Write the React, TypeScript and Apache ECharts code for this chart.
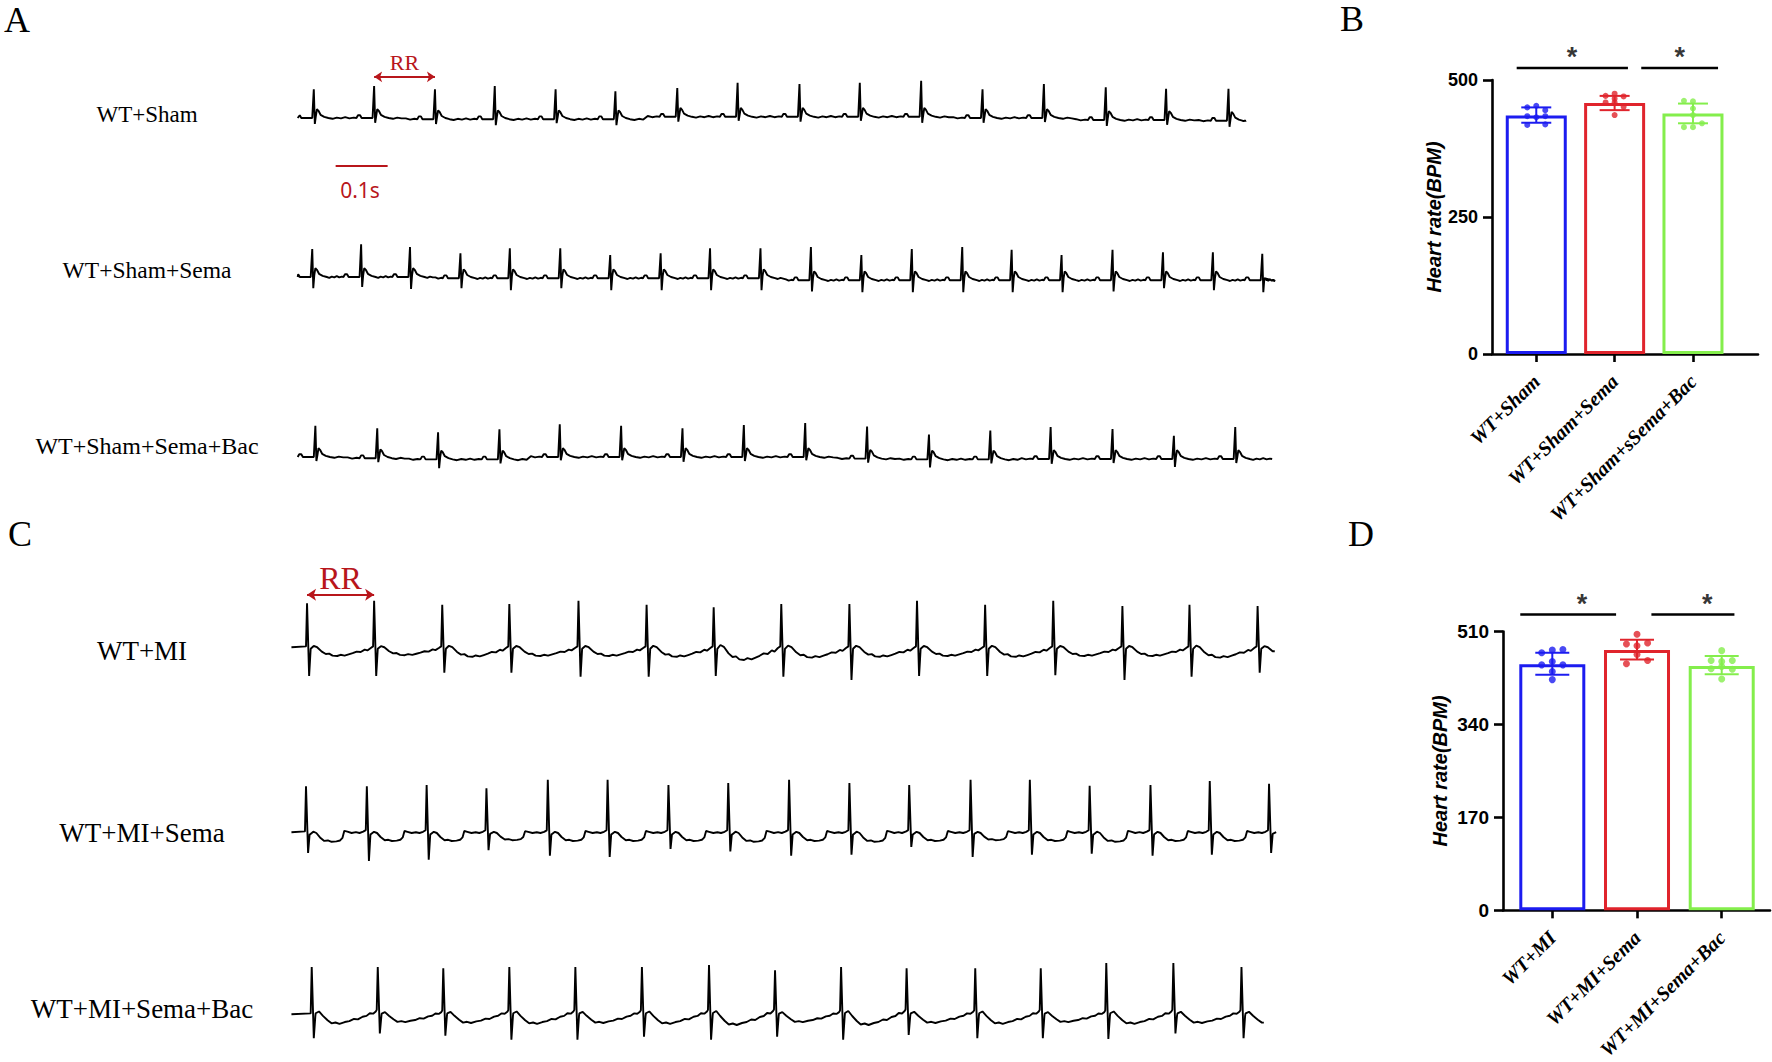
import React, { useEffect, useRef } from "react";
import * as echarts from "echarts";

// ---------------- ECG traces (time in ms, amplitude in mV) ----------------
const traceLabels = ["WT+Sham", "WT+Sham+Sema", "WT+Sham+Sema+Bac", "WT+MI", "WT+MI+Sema", "WT+MI+Sema+Bac"];

const shamSpan = [34, 1858];
const shamBeats = [65, 181, 298, 413, 530, 645, 764, 880, 999, 1115, 1233, 1351, 1469, 1588, 1704, 1824];
const shamR = [0.72, 0.8, 0.75, 0.83, 0.75, 0.7, 0.72, 0.85, 0.82, 0.85, 0.9, 0.72, 0.85, 0.82, 0.78, 0.8];
const shamS = [0.15, 0.12, 0.12, 0.15, 0.1, 0.15, 0.12, 0.1, 0.12, 0.1, 0.15, 0.12, 0.1, 0.15, 0.12, 0.15];
const shamBase = [0, 0, -0.03, -0.03, -0.03, -0.03, 0.03, 0.03, 0.03, 0.03, 0.03, 0, 0, -0.05, -0.05, -0.07];

const semaSpan = [34, 1895];
const semaBeats = [62, 156, 250, 347, 442, 539, 635, 732, 827, 924, 1021, 1118, 1215, 1312, 1407, 1503, 1601, 1698, 1794, 1889];
const semaR = [0.7, 0.82, 0.75, 0.62, 0.75, 0.75, 0.58, 0.62, 0.75, 0.75, 0.83, 0.63, 0.78, 0.83, 0.76, 0.63, 0.76, 0.7, 0.7, 0.66];
const semaS = [0.28, 0.25, 0.3, 0.25, 0.3, 0.25, 0.3, 0.3, 0.3, 0.3, 0.28, 0.3, 0.3, 0.3, 0.3, 0.3, 0.28, 0.2, 0.25, 0.3];
const semaBase = [0, 0, 0, -0.03, -0.03, -0.03, -0.03, -0.03, -0.03, -0.03, -0.08, -0.08, -0.08, -0.08, -0.08, -0.08, -0.08, -0.08, -0.08, -0.08];

const bacSpan = [34, 1908];
const bacBeats = [68, 187, 304, 422, 538, 656, 774, 892, 1010, 1129, 1248, 1366, 1482, 1601, 1719, 1837];
const bacR = [0.78, 0.75, 0.68, 0.75, 0.82, 0.78, 0.72, 0.8, 0.85, 0.8, 0.62, 0.72, 0.8, 0.75, 0.58, 0.8];
const bacS = [0.1, 0.1, 0.22, 0.1, 0.08, 0.08, 0.12, 0.1, 0.08, 0.1, 0.2, 0.1, 0.12, 0.1, 0.2, 0.1];
const bacBase = [0, -0.03, -0.06, -0.06, 0, 0, 0, 0, 0, -0.04, -0.06, -0.06, -0.05, -0.05, -0.05, -0.05];

const miSpan = [22, 1913];
const miBeats = [52, 181, 312, 441, 574, 705, 834, 964, 1095, 1225, 1356, 1487, 1620, 1749, 1880];
const miR = [1.12, 1.18, 1.08, 1.1, 1.18, 1.08, 1.02, 1.1, 1.1, 1.18, 1.08, 1.18, 1.05, 1.08, 1.05];
const miS = [0.7, 0.7, 0.62, 0.62, 0.72, 0.72, 0.7, 0.72, 0.8, 0.7, 0.7, 0.68, 0.8, 0.72, 0.62];
const miDip = [0.2, 0.18, 0.22, 0.2, 0.2, 0.22, 0.3, 0.24, 0.22, 0.2, 0.22, 0.2, 0.2, 0.24, 0.18];

const miSemaSpan = [22, 1917];
const miSemaBeats = [50, 167, 282, 397, 515, 630, 747, 862, 979, 1095, 1210, 1328, 1442, 1557, 1674, 1788, 1902];
const miSemaR = [1.17, 1.17, 1.2, 1.12, 1.33, 1.33, 1.2, 1.25, 1.33, 1.25, 1.2, 1.33, 1.33, 1.18, 1.2, 1.3, 1.23];
const miSemaS = [0.5, 0.7, 0.67, 0.43, 0.57, 0.6, 0.4, 0.46, 0.57, 0.54, 0.35, 0.6, 0.54, 0.52, 0.57, 0.54, 0.5];
const miSemaDip = [0.22, 0.2, 0.2, 0.18, 0.2, 0.2, 0.2, 0.22, 0.2, 0.22, 0.2, 0.18, 0.2, 0.22, 0.2, 0.2, 0.15];

const miBacSpan = [22, 1892];
const miBacBeats = [61, 188, 314, 441, 568, 696, 825, 952, 1079, 1205, 1337, 1463, 1589, 1718, 1849];
const miBacR = [1.2, 1.2, 1.17, 1.2, 1.2, 1.2, 1.25, 1.12, 1.2, 1.17, 1.17, 1.17, 1.3, 1.3, 1.2];
const miBacS = [0.58, 0.46, 0.52, 0.62, 0.62, 0.54, 0.62, 0.54, 0.62, 0.5, 0.58, 0.58, 0.6, 0.46, 0.58];
const miBacDip = [0.22, 0.18, 0.2, 0.22, 0.2, 0.22, 0.25, 0.18, 0.25, 0.2, 0.22, 0.18, 0.22, 0.2, 0.2];

// waveform shapes
const shamComplexT = [-34, -31, -27, -24, -3, 0, 2, 4, 6, 9, 13, 20, 28];
const shamComplexV: (number | string)[] = [0, 0.07, 0.07, 0, 0, "R", "S", 0.05, 0.22, 0.18, 0.08, 0.03, 0];
const shamFlat = [[0.15, -0.02], [0.3, 0.01], [0.45, -0.01], [0.6, 0.02], [0.75, -0.01], [0.9, 0.01]];

const shapeMI = [[0.06, -0.1], [0.1, 0.25], [0.15, 0.1], [0.22, -0.45], [0.28, -0.75], [0.33, -0.7], [0.38, -0.95], [0.45, -1.0], [0.5, -0.85], [0.56, -0.95], [0.62, -0.8], [0.68, -0.65], [0.74, -0.45], [0.8, -0.5], [0.86, -0.2], [0.9, -0.3], [0.95, 0.0]];
const shapeMISema = [[0.06, -0.2], [0.12, 0.15], [0.17, 0.0], [0.23, -0.5], [0.3, -0.9], [0.36, -0.85], [0.42, -1.0], [0.5, -0.95], [0.56, -0.85], [0.6, -0.55], [0.63, 0.25], [0.68, 0.15], [0.75, 0.0], [0.82, 0.1], [0.88, 0.0], [0.94, 0.15]];
const shapeMIBac = [[0.06, 0.2], [0.11, 0.4], [0.17, -0.1], [0.24, -0.6], [0.3, -0.95], [0.36, -0.85], [0.42, -1.0], [0.5, -0.8], [0.57, -0.7], [0.64, -0.45], [0.7, -0.5], [0.77, -0.2], [0.83, -0.1], [0.88, 0.2], [0.93, 0.15], [0.97, 0.4]];

// ---------------- Heart-rate bar charts ----------------
const catsB = ["WT+Sham", "WT+Sham+Sema", "WT+Sham+sSema+Bac"];
const meanB = [435, 458, 439];
const lowB = [422, 445, 421];
const highB = [450, 471, 457];
const dotsB = [
  [450, 453, 445, 434, 432, 434, 418, 419],
  [471, 475, 470, 459, 466, 451, 436, 459],
  [462, 461, 448, 436, 414, 414, 421],
];
const colsB = [
  [-1, 0, 1, -1, 0, 1, -1, 1],
  [-1, 0, 1, -1, 0, 1, 0, 0],
  [-1, 0, 0, 0, -1, 0, 1],
];

const catsD = ["WT+MI", "WT+MI+Sema", "WT+MI+Sema+Bac"];
const meanD = [450, 476, 447];
const lowD = [431, 459, 432];
const highD = [471, 495, 465];
const dotsD = [
  [471, 476, 477, 449, 455, 449, 437, 422],
  [505, 487, 489, 484, 468, 451, 457],
  [475, 457, 455, 457, 442, 446, 441, 423],
];
const colsD = [
  [-1, 0, 1, -1, 0, 1, 0, 0],
  [0, -1, 1, 0, 0, -1, 1],
  [0, -1, 0, 1, -1, 0, 1, 0],
];

const groupColors = ["#1c1cf0", "#e0242c", "#84ee4c"];
const annotRed = "#b8161b";

function buildSham(span: number[], beats: number[], r: number[], s: number[], base: number[]) {
  const pts: number[][] = [[span[0], base[0]]];
  const n = beats.length;
  for (let i = 0; i < n; i++) {
    const t = beats[i];
    const b = base[i];
    if (i > 0) {
      const a = beats[i - 1] + 28;
      const e = t - 34;
      for (const [f, v] of shamFlat) pts.push([a + f * (e - a), (f < 0.5 ? base[i - 1] : b) + v]);
    }
    for (let k = 0; k < shamComplexT.length; k++) {
      const x = t + shamComplexT[k];
      if (x <= span[0] || x >= span[1]) continue;
      const code = shamComplexV[k];
      const v = code === "R" ? r[i] : code === "S" ? -s[i] : (code as number);
      pts.push([x, b + v]);
    }
  }
  const a = beats[n - 1] + 28;
  const e = span[1];
  for (const [f, v] of shamFlat) pts.push([a + f * (e - a), base[n - 1] + v]);
  pts.push([span[1], base[n - 1]]);
  return pts;
}

function buildMI(span: number[], beats: number[], r: number[], s: number[], dip: number[], shape: number[][]) {
  const pts: number[][] = [[span[0], 0.02]];
  const n = beats.length;
  let last = 0;
  for (let i = 0; i < n; i++) {
    const t = beats[i];
    const rr = i < n - 1 ? beats[i + 1] - t : t - beats[i - 1];
    const pre = i > 0 ? shape[shape.length - 1][1] * dip[i - 1] + 0.04 : 0.04;
    pts.push([t - 2, pre]);
    pts.push([t, r[i]]);
    pts.push([t + 4, -s[i]]);
    pts.push([t + 7, -0.02]);
    last = -0.02;
    for (const [f, m] of shape) {
      const x = t + f * rr;
      if (x >= span[1]) break;
      last = m * dip[i];
      pts.push([x, last]);
    }
  }
  pts.push([span[1], last]);
  return pts;
}

const traces = [
  buildSham(shamSpan, shamBeats, shamR, shamS, shamBase),
  buildSham(semaSpan, semaBeats, semaR, semaS, semaBase),
  buildSham(bacSpan, bacBeats, bacR, bacS, bacBase),
  buildMI(miSpan, miBeats, miR, miS, miDip, shapeMI),
  buildMI(miSemaSpan, miSemaBeats, miSemaR, miSemaS, miSemaDip, shapeMISema),
  buildMI(miBacSpan, miBacBeats, miBacR, miBacS, miBacDip, shapeMIBac),
];

// layout
const TRACE_LEFT = 280;
const TRACE_WIDTH = 1040;
const X_MAX = 2000;
const Y_MIN = -1.15;
const Y_MAX = 2;
const PX_PER_MV = 40;
const rowCenters = [118, 277, 457, 648, 833, 1015];
const labelCenters = [[147, 114, 23], [147, 270, 23.5], [147, 446, 24], [142, 651, 27], [142, 833, 27], [142, 1009, 27]];

export default function App() {
  const ref = useRef<HTMLDivElement>(null);
  useEffect(() => {
    document.body.style.margin = "0";
    const chart = echarts.init(ref.current!, null, { renderer: "svg" });
    const grid: any[] = [];
    const xAxis: any[] = [];
    const yAxis: any[] = [];
    const series: any[] = [];

    traces.forEach((data, i) => {
      grid.push({
        left: TRACE_LEFT,
        top: rowCenters[i] - Y_MAX * PX_PER_MV,
        width: TRACE_WIDTH,
        height: (Y_MAX - Y_MIN) * PX_PER_MV,
      });
      xAxis.push({ type: "value", gridIndex: i, min: 0, max: X_MAX, show: false });
      yAxis.push({ type: "value", gridIndex: i, min: Y_MIN, max: Y_MAX, show: false });
      const s: any = {
        type: "line",
        xAxisIndex: i,
        yAxisIndex: i,
        data,
        symbol: "none",
        silent: true,
        clip: false,
        lineStyle: { color: "#000", width: 1.9 },
      };
      if (i === 0) {
        s.markLine = {
          silent: true,
          symbol: ["arrow", "arrow"],
          symbolSize: 8,
          lineStyle: { color: annotRed, width: 1.8, type: "solid" },
          label: {
            show: true, formatter: "RR", position: "insideMiddleTop", distance: 3,
            color: annotRed, fontFamily: "Liberation Serif", fontSize: 22,
          },
          data: [[{ coord: [shamBeats[1], 1.03] }, { coord: [shamBeats[2], 1.03] }]],
        };
      }
      if (i === 3) {
        s.markLine = {
          silent: true,
          symbol: ["arrow", "arrow"],
          symbolSize: 9,
          lineStyle: { color: annotRed, width: 2, type: "solid" },
          label: {
            show: true, formatter: "RR", position: "insideMiddleTop", distance: 1,
            color: annotRed, fontFamily: "Liberation Serif", fontSize: 32,
          },
          data: [[{ coord: [miBeats[0], 1.33] }, { coord: [miBeats[1], 1.33] }]],
        };
      }
      series.push(s);
    });
    // 0.1 s scale bar (row 1 axes)
    series.push({
      type: "line", xAxisIndex: 0, yAxisIndex: 0, data: [[107, -1.2], [207, -1.2]],
      symbol: "none", silent: true, clip: false, lineStyle: { color: annotRed, width: 1.8 },
    });

    const barPanel = (gi: number, g: any, xmin: number, xmax: number, ymax: number, yint: number,
      cats: string[], mean: number[], low: number[], high: number[], dots: number[][], cols: number[][],
      colStep: number, barW: number, capW: number, dotSize: number, labelSize: number, tickSize: number,
      nameGap: number, sigY: number, sigLines: number[][], starY: number, stars: number[]) => {
      grid.push(g);
      const axisLineStyle = { color: "#000", width: 2.6 };
      xAxis.push({
        type: "value", gridIndex: gi, min: xmin, max: xmax,
        axisLine: { show: true, onZero: false, lineStyle: axisLineStyle },
        axisTick: { show: true, customValues: [1, 2, 3], length: 8, lineStyle: axisLineStyle },
        axisLabel: {
          customValues: [1, 2, 3], formatter: (v: number) => cats[Math.round(v) - 1] || "",
          rotate: 45, margin: 24, color: "#000", fontFamily: "Liberation Serif",
          fontStyle: "italic", fontWeight: "bold", fontSize: labelSize,
        },
        splitLine: { show: false },
      });
      yAxis.push({
        type: "value", gridIndex: gi, min: 0, max: ymax, interval: yint,
        axisLine: { show: true, lineStyle: axisLineStyle },
        axisTick: { show: true, length: 9, lineStyle: axisLineStyle },
        axisLabel: { margin: 14, color: "#000", fontFamily: "Liberation Sans", fontWeight: "bold", fontSize: tickSize },
        splitLine: { show: false },
        name: "Heart rate(BPM)", nameLocation: "middle", nameGap,
        nameTextStyle: { color: "#000", fontFamily: "Liberation Sans", fontWeight: "bold", fontStyle: "italic", fontSize: 20 },
      });
      series.push({
        type: "bar", xAxisIndex: gi, yAxisIndex: gi, barWidth: barW, silent: true,
        data: mean.map((v, i) => ({
          value: [i + 1, v],
          itemStyle: { color: "#fff", borderColor: groupColors[i], borderWidth: 3 },
        })),
      });
      series.push({
        type: "custom", xAxisIndex: gi, yAxisIndex: gi, silent: true, z: 5,
        data: mean.map((_, i) => [i + 1, low[i], high[i]]),
        renderItem: (params: any, api: any) => {
          const x = api.value(0);
          const pHi = api.coord([x, api.value(2)]);
          const pLo = api.coord([x, api.value(1)]);
          const style = { stroke: groupColors[params.dataIndex], lineWidth: 2 };
          const h = capW / 2;
          return {
            type: "group",
            children: [
              { type: "line", shape: { x1: pHi[0], y1: pHi[1], x2: pLo[0], y2: pLo[1] }, style },
              { type: "line", shape: { x1: pHi[0] - h, y1: pHi[1], x2: pHi[0] + h, y2: pHi[1] }, style },
              { type: "line", shape: { x1: pLo[0] - h, y1: pLo[1], x2: pLo[0] + h, y2: pLo[1] }, style },
            ],
          };
        },
      });
      dots.forEach((vals, gIdx) => {
        series.push({
          type: "scatter", xAxisIndex: gi, yAxisIndex: gi, silent: true, z: 6,
          symbol: "circle", symbolSize: dotSize,
          itemStyle: { color: groupColors[gIdx] },
          data: vals.map((v, k) => [gIdx + 1 + cols[gIdx][k] * colStep, v]),
        });
      });
      sigLines.forEach((ln) => {
        series.push({
          type: "line", xAxisIndex: gi, yAxisIndex: gi, silent: true, clip: false, symbol: "none",
          lineStyle: { color: "#000", width: 2.6 },
          data: [[ln[0], sigY], [ln[1], sigY]],
        });
      });
      series.push({
        type: "scatter", xAxisIndex: gi, yAxisIndex: gi, silent: true, clip: false,
        symbolSize: 1, itemStyle: { color: "rgba(0,0,0,0)" },
        label: { show: true, position: "inside", formatter: "*", color: "#000", fontFamily: "Liberation Sans", fontWeight: "bold", fontSize: 27 },
        data: stars.map((x) => [x, starY]),
      });
    };

    barPanel(6, { left: 1492, top: 80, width: 266, height: 274 }, 0.435, 3.83, 500, 250,
      catsB, meanB, lowB, highB, dotsB, colsB, 0.115, 61, 30, 6, 20, 18, 48,
      522, [[0.75, 2.17], [2.34, 3.32]], 542, [1.455, 2.83]);
    barPanel(7, { left: 1503, top: 631.5, width: 267, height: 279.2 }, 0.418, 3.57, 510, 170,
      catsD, meanD, lowD, highD, dotsD, colsD, 0.125, 66, 34, 7, 20, 19, 53,
      541, [[0.622, 1.753], [2.17, 3.15]], 560, [1.35, 2.83]);

    const serifText = (text: string, x: number, y: number, size: number, color = "#000", family = "Liberation Serif") => ({
      type: "text", x, y, silent: true,
      style: { text, fill: color, font: `${size}px "${family}"`, textAlign: "center", textVerticalAlign: "middle" },
    });
    const graphic: any[] = [
      serifText("A", 17, 20, 36),
      serifText("B", 1352, 19, 36),
      serifText("C", 20, 534, 36),
      serifText("D", 1361, 534, 36),
      serifText("0.1s", 360, 190, 21, annotRed, "Noto Sans"),
      ...traceLabels.map((t, i) => serifText(t, labelCenters[i][0], labelCenters[i][1], labelCenters[i][2])),
    ];

    chart.setOption({
      animation: false,
      backgroundColor: "#fff",
      grid, xAxis, yAxis, series, graphic,
    });
    return () => chart.dispose();
  }, []);
  return <div ref={ref} style={{ position: "fixed", left: 0, top: 0, width: 1772, height: 1062 }} />;
}
